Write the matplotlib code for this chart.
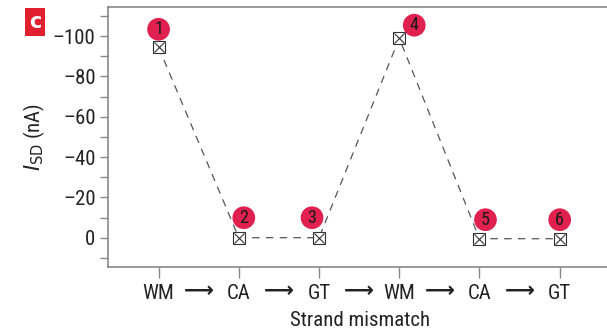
import matplotlib
matplotlib.use("Agg")
import matplotlib.pyplot as plt
from matplotlib import font_manager as fm

names = {f.name for f in fm.fontManager.ttflist}
fam = "DejaVu Sans"
for cand in ["Roboto Condensed", "Liberation Sans Narrow", "Open Sans Condensed", "Roboto"]:
    if cand in names:
        fam = cand
        break
plt.rcParams['font.family'] = [fam, 'DejaVu Sans']

categories = ["WM", "CA", "GT", "WM", "CA", "GT"]
isd_values = [-94.5, 0, 0, -99, 0.5, 0.5]
point_labels = ["1", "2", "3", "4", "5", "6"]
label_offsets = [(0, 18), (5, 20), (-7, 20), (15, 13), (6, 19), (0, 19)]
yticks = [-100, -80, -60, -40, -20, 0]

fig = plt.figure(figsize=(6.07, 3.32), dpi=100)
ax = fig.add_axes([0.178, 0.196, 0.83, 0.783])
x = list(range(len(categories)))
ax.plot(x, isd_values, ls=(0, (6, 5)), color="#555555", lw=0.9, zorder=2)
ax.plot(x, isd_values, ls="none", marker="s", ms=8, mfc="white", mec="#333333", mew=0.8, zorder=3)
ax.plot(x, isd_values, ls="none", marker="x", ms=7, mec="#333333", mew=0.8, zorder=4)

for xi, yi, lab, (dx, dy) in zip(x, isd_values, point_labels, label_offsets):
    ax.annotate(lab, (xi, yi), xytext=(dx, dy), textcoords="offset pixels",
                ha="center", va="center", fontsize=13, color="#1a1a1a",
                bbox=dict(boxstyle="circle,pad=0.13", fc="#e0204f", ec="none"), zorder=5)

ax.set_xlim(-0.63, 5.65)
ax.set_ylim(14.5, -114.5)
ax.set_xticks(x)
ax.set_xticklabels(categories, fontsize=15)
for i in range(len(categories) - 1):
    ax.text(i + 0.5, -0.093, "\u27F6", transform=ax.get_xaxis_transform(),
            ha="center", va="center", fontsize=15, fontweight="bold",
            color="#222222", family="DejaVu Sans")
ax.set_yticks(yticks)
ax.set_yticklabels(["\u2013%d" % abs(v) if v < 0 else "%d" % v for v in yticks], fontsize=15)
ax.set_yticks(range(-110, 11, 10), minor=True)
ax.tick_params(axis="both", which="both", direction="out", color="#888888", labelcolor="#222222")
ax.tick_params(axis="y", which="major", length=6, width=1, pad=3)
ax.tick_params(axis="y", which="minor", length=6, width=1)
ax.tick_params(axis="x", which="major", length=8, width=1, pad=4)
for s in ["left", "bottom", "top"]:
    ax.spines[s].set_color("#888888")
    ax.spines[s].set_linewidth(1.2)
ax.spines["right"].set_visible(False)

ax.set_xlabel("Strand mismatch", fontsize=15, color="#222222", labelpad=6)
ax.set_ylabel(r"$I_{\mathrm{SD}}$ (nA)", fontsize=15, color="#222222", labelpad=4)

fig.text(35 / 607, 1 - 22 / 332, "c", ha="center", va="center", fontsize=15,
         fontweight="bold", color="white", family="DejaVu Sans",
         bbox=dict(boxstyle="square,pad=0.2", fc="#e0202e", ec="none"))

fig.savefig("out.png", dpi=100)
